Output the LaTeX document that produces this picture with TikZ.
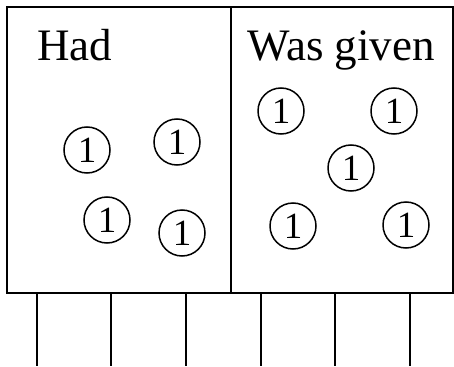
\documentclass[tikz,border=0pt]{standalone}
\usepackage{fontspec}
\setmainfont{Liberation Serif}
\newfontfamily\tms{Liberation Serif}
\begin{document}
\begin{tikzpicture}[x=1pt,y=-1pt,
  one/.style={circle,draw,line width=1.5pt,minimum size=46pt,inner sep=0pt,font=\tms\fontsize{37}{37}\selectfont},
  lbl/.style={anchor=base west,inner sep=0pt,font=\tms\fontsize{45}{50}\selectfont},
  frame/.style={line width=2.6pt}]
\useasboundingbox (0,0) rectangle (454,366);
\coordinate (tl) at (7,7);
\coordinate (br) at (453,293);
\draw[frame] (tl) rectangle (br);
\coordinate (dt) at (231,7);
\coordinate (db) at (231,293);
\draw[frame] (dt) -- (db);
\foreach \x [count=\i] in {37,111,186,261,335,410}{
  \coordinate (t\i) at (\x,293);
  \coordinate (b\i) at (\x,366);
  \draw[frame] (t\i) -- (b\i);
}
\node[lbl] (had) at (37,61) {Had};
\node[lbl] (given) at (247,61) {Was given};
\node[one] (l1) at (87,150) {1};
\node[one] (l2) at (177,142) {1};
\node[one] (l3) at (107,220) {1};
\node[one] (l4) at (182,233) {1};
\node[one] (r1) at (281,111) {1};
\node[one] (r2) at (394,111) {1};
\node[one] (r3) at (351,168) {1};
\node[one] (r4) at (293,226) {1};
\node[one] (r5) at (406,225) {1};
\end{tikzpicture}
\end{document}
